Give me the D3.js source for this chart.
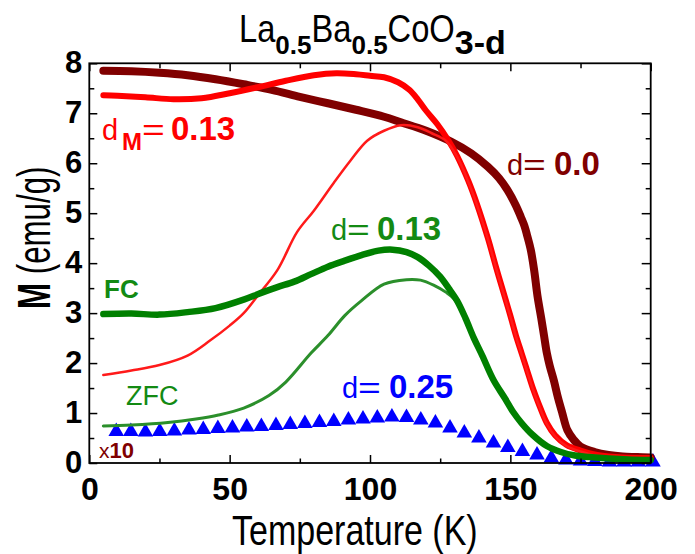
<!DOCTYPE html>
<html>
<head>
  <meta charset="utf-8">
  <style>
    * { margin: 0; padding: 0; box-sizing: border-box; }
    body { background: #fff; font-family: "Liberation Sans", Arial, sans-serif; }
    svg { display: block; }
    text { white-space: pre; }
  </style>
</head>
<body>
  <div id="chart"></div>
  <script src="https://cdn.jsdelivr.net/npm/d3@7"></script>
  <script>
    // axis ticks
    const xMajor = [0, 50, 100, 150, 200];
    const xMinor = [25, 75, 125, 175];
    const yMajor = [0, 1, 2, 3, 4, 5, 6, 7, 8];
    const yMinor = [0.5, 1.5, 2.5, 3.5, 4.5, 5.5, 6.5, 7.5];

    // d = 0.0 (dark red)
    const d00T = [5, 15, 25, 35, 45, 55, 65, 75, 85, 95, 105, 111, 120, 129, 136, 142, 146, 149, 152, 153.7, 155, 156, 157.3, 158.5, 159.7, 161, 162, 163, 164, 165.5, 167, 168.5, 170.3, 172.5, 175, 180, 185, 190, 195, 200];
    const d00M = [7.85, 7.84, 7.81, 7.76, 7.68, 7.58, 7.47, 7.33, 7.2, 7.07, 6.93, 6.82, 6.65, 6.43, 6.2, 5.93, 5.7, 5.46, 5.15, 4.93, 4.75, 4.55, 4.26, 3.85, 3.33, 2.9, 2.55, 2.2, 1.95, 1.65, 1.3, 1.0, 0.66, 0.47, 0.33, 0.22, 0.16, 0.13, 0.12, 0.11];

    // d_M = 0.13, FC (red, thick)
    const dmFcT = [5, 10, 20, 30, 40, 50, 60, 70, 80, 88, 95, 100, 105, 110, 114, 117, 120, 124, 128, 131, 135, 138, 142, 145, 148, 150, 152, 154, 156, 158, 160, 163, 166, 170, 175, 180, 185, 190, 200];
    const dmFcM = [7.36, 7.35, 7.32, 7.28, 7.3, 7.4, 7.52, 7.65, 7.76, 7.8, 7.78, 7.75, 7.72, 7.62, 7.47, 7.28, 7.05, 6.78, 6.45, 6.15, 5.65, 5.2, 4.5, 3.9, 3.33, 2.95, 2.55, 2.2, 1.85, 1.5, 1.2, 0.8, 0.55, 0.36, 0.25, 0.17, 0.13, 0.11, 0.1];

    // d_M = 0.13, ZFC (red, thin)
    const dmZfcT = [5, 15, 25, 35, 43, 50, 55, 60, 67, 74, 80, 87, 93, 99, 105, 111, 117, 122, 127, 131, 135, 138, 142, 145, 148, 150, 152, 154, 156, 158, 160, 163, 166, 170, 175, 180, 185, 190, 200];
    const dmZfcM = [1.76, 1.85, 1.96, 2.15, 2.45, 2.75, 3.0, 3.35, 3.86, 4.62, 5.05, 5.6, 6.05, 6.45, 6.65, 6.76, 6.72, 6.6, 6.45, 6.13, 5.63, 5.18, 4.48, 3.88, 3.31, 2.93, 2.53, 2.18, 1.83, 1.48, 1.18, 0.78, 0.53, 0.34, 0.23, 0.15, 0.11, 0.09, 0.08];

    // d = 0.13, FC (green, thick)
    const d13FcT = [5, 15, 25, 35, 45, 55, 61, 67, 73, 79, 85, 91, 97, 103, 108, 113, 117, 121, 125, 128, 131, 134, 137, 140, 144, 148, 151, 154, 158, 163, 168, 173, 178, 185, 192, 200];
    const d13FcM = [2.98, 2.99, 2.97, 3.02, 3.1, 3.27, 3.4, 3.52, 3.63, 3.78, 3.93, 4.05, 4.16, 4.25, 4.27, 4.22, 4.12, 3.95, 3.73, 3.5, 3.25, 2.9, 2.5, 2.15, 1.66, 1.3, 1.02, 0.8, 0.56, 0.34, 0.22, 0.15, 0.12, 0.09, 0.07, 0.06];

    // d = 0.13, ZFC (green, thin)
    const d13ZfcT = [5, 15, 28, 38, 46, 55, 64, 70, 79, 85, 91, 97, 105, 113, 118, 123, 127, 130, 134, 137, 140, 144, 148, 151, 154, 158, 163, 168, 173, 178, 185, 192, 200];
    const d13ZfcM = [0.74, 0.76, 0.81, 0.88, 0.96, 1.1, 1.35, 1.62, 2.2, 2.55, 2.95, 3.25, 3.58, 3.67, 3.66, 3.55, 3.42, 3.28, 2.88, 2.48, 2.13, 1.64, 1.28, 1.0, 0.78, 0.54, 0.32, 0.2, 0.13, 0.1, 0.07, 0.05, 0.04];

    // d = 0.25 (blue triangles, x10)
    const d25T = [9.6, 14.8, 20, 25.1, 30.3, 35.5, 40.6, 45.8, 51, 56.1, 61.3, 66.5, 71.6, 76.8, 82, 87.1, 92.3, 97.5, 102.6, 107.8, 113, 118.1, 123.3, 128.5, 133.6, 138.8, 144, 149.1, 154.3, 159.5, 164.6, 169.8, 175, 180.1, 185.3, 190.5, 195.6, 200.8];
    const d25M = [0.63, 0.63, 0.62, 0.63, 0.64, 0.66, 0.67, 0.69, 0.7, 0.72, 0.73, 0.75, 0.77, 0.79, 0.81, 0.83, 0.86, 0.88, 0.9, 0.92, 0.91, 0.86, 0.8, 0.7, 0.6, 0.5, 0.4, 0.31, 0.23, 0.16, 0.1, 0.06, 0.04, 0.03, 0.02, 0.02, 0.02, 0.02];

    const width = 695, height = 554;
    const x = d3.scaleLinear([0, 200], [89.3, 650.7]);
    const y = d3.scaleLinear([0, 8], [463, 63.3]);

    const svg = d3.select('#chart').append('svg')
      .attr('width', width).attr('height', height)
      .attr('viewBox', [0, 0, width, height]);

    // sequential text runs (mixed size / weight / subscripts)
    function runs(parent, x0, y0, list) {
      let cx = x0;
      list.forEach(function(r) {
        if (r.x != null) cx = r.x;
        const sx = r.sx || 1;
        const t = parent.append('text')
          .attr('transform', 'translate(' + cx + ',' + (y0 + (r.dy || 0)) + ') scale(' + sx + ',1)')
          .attr('font-size', r.size)
          .attr('font-weight', r.bold ? 'bold' : 'normal')
          .attr('fill', r.fill || '#000')
          .text(r.t);
        cx += t.node().getComputedTextLength() * sx + (r.gap || 0);
      });
    }

    // series
    const line = d3.line().x(d => x(d[0])).y(d => y(d[1])).curve(d3.curveCatmullRom.alpha(0.5));
    const pairs = (T, M) => T.map((t, i) => [t, M[i]]);
    const plot = svg.append('g');

    plot.append('g').selectAll('path')
      .data(pairs(d25T, d25M))
      .join('path')
      .attr('transform', d => 'translate(' + x(d[0]) + ',' + y(d[1]) + ')')
      .attr('d', d3.symbol(d3.symbolTriangle, 105))
      .attr('fill', '#0000ff');

    function drawLine(T, M, color, w) {
      plot.append('path').datum(pairs(T, M))
        .attr('d', line).attr('fill', 'none')
        .attr('stroke', color).attr('stroke-width', w)
        .attr('stroke-linecap', 'round').attr('stroke-linejoin', 'round');
    }
    drawLine(d00T, d00M, '#800000', 8);
    drawLine(dmFcT, dmFcM, '#ff0000', 6);
    drawLine(dmZfcT, dmZfcM, '#ff1a1a', 2.5);
    drawLine(d13ZfcT, d13ZfcM, '#2b8f2b', 3);
    drawLine(d13FcT, d13FcM, '#008000', 6.5);

    // axes, ticks pointing inward
    function axis(gen, tx, ty, vals, size, labels) {
      const g = svg.append('g').attr('transform', 'translate(' + tx + ',' + ty + ')')
        .call(gen.tickValues(vals).tickSize(-size).tickFormat(labels ? d3.format('d') : ''));
      g.select('.domain').remove();
      g.selectAll('.tick line').attr('stroke', '#000').attr('stroke-width', 1.5);
      return g;
    }
    const bx = axis(d3.axisBottom(x), 0, 463, xMajor, 8, true);
    axis(d3.axisBottom(x), 0, 463, xMinor, 4.5, false);
    axis(d3.axisTop(x), 0, 63.3, xMajor, 8, false);
    axis(d3.axisTop(x), 0, 63.3, xMinor, 5, false);
    const ly = axis(d3.axisLeft(y), 89.3, 0, yMajor, 8, true);
    axis(d3.axisLeft(y), 89.3, 0, yMinor, 5, false);
    axis(d3.axisRight(y), 650.7, 0, yMajor, 9, false);
    axis(d3.axisRight(y), 650.7, 0, yMinor, 5, false);

    bx.selectAll('.tick text')
      .attr('y', 37).attr('dy', 0)
      .attr('font-size', 32).attr('font-weight', 'bold')
      .attr('font-family', '"Liberation Sans", Arial, sans-serif').attr('fill', '#000');
    ly.selectAll('.tick text')
      .attr('x', -7).attr('dy', 9.5)
      .attr('font-size', 31).attr('font-weight', 'bold')
      .attr('font-family', '"Liberation Sans", Arial, sans-serif').attr('fill', '#000');

    svg.append('rect')
      .attr('x', x(0)).attr('y', y(8))
      .attr('width', x(200) - x(0)).attr('height', y(0) - y(8))
      .attr('fill', 'none').attr('stroke', '#000').attr('stroke-width', 1.8);

    // title
    runs(svg, 239, 42, [
      { t: 'La', size: 38, sx: 0.86 },
      { t: '0.5', size: 26, bold: true, dy: 12 },
      { t: 'Ba', size: 38, sx: 0.86 },
      { t: '0.5', size: 26, bold: true, dy: 12 },
      { t: 'CoO', size: 38, sx: 0.86 },
      { t: '3-d', size: 34, bold: true, dy: 11.5 }
    ]);

    // axis titles
    runs(svg, 232, 545, [{ t: 'Temperature (K)', size: 42, sx: 0.81 }]);
    const yl = svg.append('g').attr('transform', 'translate(50,309) rotate(-90)');
    runs(yl, 0, 0, [
      { t: 'M', size: 46, bold: true, sx: 0.68 },
      { t: ' (emu/g)', size: 46, sx: 0.68 }
    ]);

    // curve labels
    const red = '#ff0000', dred = '#800000', green = '#138a13', blue = '#0000ff';
    runs(svg, 0, 140, [
      { t: 'd', x: 102, size: 29, fill: red },
      { t: 'M', x: 122, size: 24, bold: true, dy: 10, fill: red },
      { t: '=', x: 142, size: 30, sx: 1.3, fill: red },
      { t: '0.13', x: 171, size: 33, bold: true, fill: red }
    ]);
    runs(svg, 0, 175, [
      { t: 'd', x: 507, size: 29, fill: dred },
      { t: '=', x: 523, size: 30, sx: 1.3, fill: dred },
      { t: '0.0', x: 554, size: 33, bold: true, fill: dred }
    ]);
    runs(svg, 0, 240, [
      { t: 'd', x: 331, size: 29, fill: green },
      { t: '=', x: 347, size: 30, sx: 1.3, fill: green },
      { t: '0.13', x: 377, size: 33, bold: true, fill: green }
    ]);
    runs(svg, 0, 398, [
      { t: 'd', x: 342, size: 29, fill: blue },
      { t: '=', x: 358, size: 30, sx: 1.3, fill: blue },
      { t: '0.25', x: 389, size: 33, bold: true, fill: blue }
    ]);
    runs(svg, 104, 298, [{ t: 'FC', size: 26, bold: true, fill: green }]);
    runs(svg, 126, 405, [{ t: 'ZFC', size: 27, fill: green }]);
    runs(svg, 99, 458, [
      { t: 'x', size: 21, fill: dred },
      { t: '10', size: 22, bold: true, fill: dred }
    ]);
  </script>
</body>
</html>
